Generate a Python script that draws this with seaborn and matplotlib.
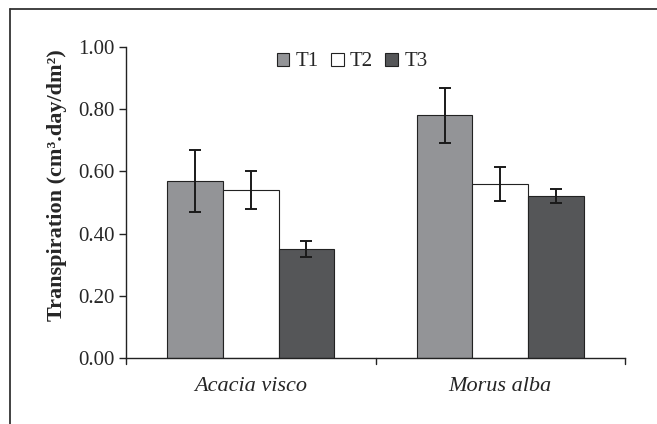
import numpy as np
import pandas as pd
import seaborn as sns
import matplotlib.pyplot as plt
from matplotlib.lines import Line2D

species = ["Acacia visco", "Morus alba"]
treatments = ["T1", "T2", "T3"]
t1_mean = [0.57, 0.78]
t2_mean = [0.54, 0.56]
t3_mean = [0.35, 0.52]
t1_err = [0.10, 0.087]
t2_err = [0.06, 0.055]
t3_err = [0.025, 0.023]

means = {"T1": t1_mean, "T2": t2_mean, "T3": t3_mean}
errs = {"T1": t1_err, "T2": t2_err, "T3": t3_err}
colors = {"T1": "#939497", "T2": "#ffffff", "T3": "#555658"}

rows = []
for t in treatments:
    for s, v in zip(species, means[t]):
        rows.append({"Species": s, "Treatment": t, "Transpiration": v})
df = pd.DataFrame(rows)

sns.set_style("white")
plt.rcParams["font.family"] = ["Liberation Serif", "DejaVu Serif"]

fig = plt.figure(figsize=(6.57, 4.24), dpi=100)
ax = fig.add_axes([0.1918, 0.1557, 0.7595, 0.7333])

sns.barplot(data=df, x="Species", y="Transpiration", hue="Treatment",
            order=species, hue_order=treatments, palette=colors,
            width=0.67, gap=0, errorbar=None, edgecolor="#222222",
            linewidth=0.8, saturation=1, ax=ax)

# error bars on top of each bar
for t, cont in zip(treatments, ax.containers):
    xs = [b.get_x() + b.get_width() / 2 for b in cont]
    ax.errorbar(xs, means[t], yerr=errs[t], fmt="none", ecolor="#1a1a1a",
                elinewidth=1.4, capsize=4, capthick=1.4)

ax.set_ylim(0, 1.0)
ax.set_xlim(-0.5, 1.5)
ax.set_yticks(np.arange(0, 1.01, 0.2))
ax.set_yticklabels([f"{v:.2f}" for v in np.arange(0, 1.01, 0.2)], fontsize=15)
ax.set_xticks([0, 1])
ax.set_xticklabels(species, fontsize=16, style="italic")
ax.tick_params(axis="x", length=0, pad=14)
ax.tick_params(axis="y", length=5, width=1, color="#222222", direction="out", left=True, pad=3)
# boundary ticks on x axis
for xb in [-0.5, 0.5, 1.5]:
    ax.plot([xb, xb], [0, -0.018], color="#222222", lw=1, clip_on=False)

for side in ["top", "right"]:
    ax.spines[side].set_visible(False)
for side in ["left", "bottom"]:
    ax.spines[side].set_color("#222222")
    ax.spines[side].set_linewidth(1)

ax.set_xlabel("")
ax.set_ylabel("Transpiration (cm³.day/dm²)", fontsize=16, fontweight="bold")
ax.yaxis.set_label_coords(-0.118, 0.557)

handles, labels = ax.get_legend_handles_labels()
ax.legend(handles, labels, loc="center", bbox_to_anchor=(0.453, 0.952), ncol=3,
          frameon=False, fontsize=15, handlelength=0.6, handleheight=0.6,
          handletextpad=0.3, columnspacing=0.6)

# outer frame lines
fig.add_artist(Line2D([0.0152, 0.0152], [0.0, 0.979], color="#333333", lw=1.3))
fig.add_artist(Line2D([0.0152, 1.0], [0.979, 0.979], color="#333333", lw=1.3))

fig.savefig("out.png", dpi=100)
